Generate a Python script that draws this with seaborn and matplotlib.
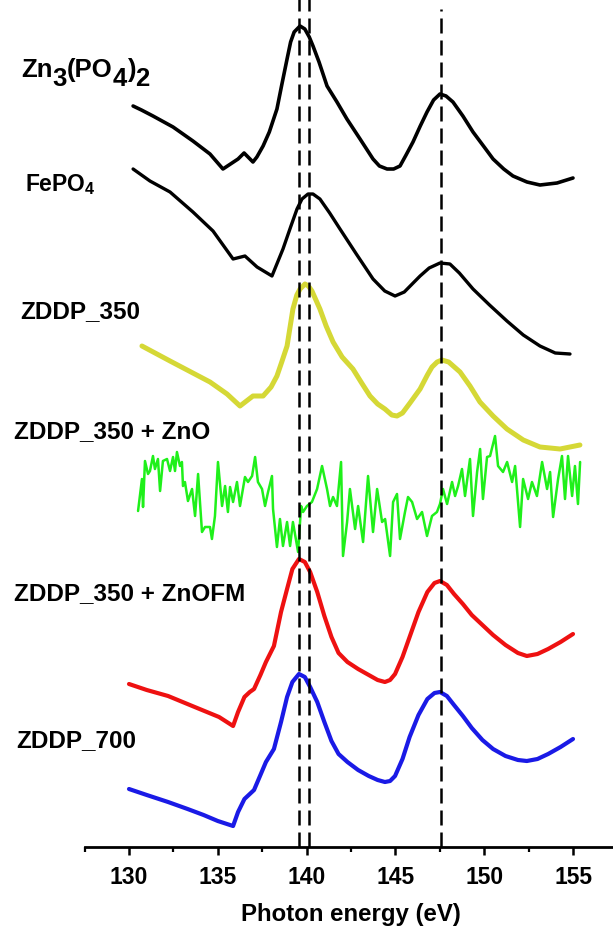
import numpy as np
import pandas as pd
import matplotlib
matplotlib.use("Agg")
import matplotlib.pyplot as plt
from matplotlib import font_manager
from matplotlib.ticker import MultipleLocator
import seaborn as sns

# ---------------- data (photon energy in eV, intensity in stacked a.u.) ----------------
zn3_x = [130.23, 130.70, 131.35, 132.48, 133.60, 134.56, 135.29, 136.14, 136.48, 136.98, 137.20,
         137.55, 137.90, 138.33, 138.60, 138.90, 139.10, 139.30, 139.63, 139.90, 140.15, 140.36,
         140.70, 141.15, 141.71, 142.27, 143.01, 143.74, 144.10, 144.53, 144.90, 145.26, 145.60,
         145.99, 146.40, 146.78, 147.15, 147.51, 147.85, 148.24, 148.80, 149.37, 150.00, 150.50,
         151.10, 151.62, 152.41, 153.14, 154.10, 155.00]
zn3_y = [741, 737, 731, 720, 706, 693, 678, 688, 694, 685, 690,
         701, 715, 738, 762, 788, 805, 815, 821, 818, 810, 801,
         785, 761, 745, 728, 708, 688, 681, 678, 678, 681, 692,
         705, 721, 735, 747, 753, 751, 745, 731, 715, 700, 688,
         678, 671, 665, 662, 664, 669]

fepo4_x = [130.23, 131.18, 132.31, 133.60, 134.73, 135.86, 136.53, 137.21, 138.05, 138.67, 139.10,
           139.46, 139.74, 140.08, 140.36, 140.75, 141.30, 141.88, 142.80, 143.74, 144.40, 144.98,
           145.50, 146.00, 146.39, 146.90, 147.51, 148.07, 148.60, 149.37, 150.30, 151.28, 152.20,
           153.14, 154.00, 154.83]
fepo4_y = [678, 666, 655, 635, 616, 588, 591, 580, 571, 598, 620,
           638, 648, 653, 653, 648, 634, 618, 593, 568, 556, 551,
           555, 564, 571, 579, 584, 583, 574, 558, 542, 526, 512,
           501, 494, 493]

zddp350_x = [130.73, 132.31, 134.56, 135.52, 136.25, 136.98, 137.55, 138.00, 138.33, 138.60, 138.90,
             139.23, 139.45, 139.63, 139.91, 140.10, 140.30, 140.75, 141.10, 141.49, 142.00, 142.61,
             143.10, 143.57, 144.00, 144.41, 144.80, 145.09, 145.40, 145.82, 146.39, 146.80, 147.06,
             147.35, 147.62, 148.00, 148.64, 149.20, 149.76, 150.50, 151.28, 152.20, 153.14, 154.27,
             155.39]
zddp350_y = [501, 486, 465, 453, 441, 451, 451, 460, 471, 485, 501,
             538, 552, 558, 563, 561, 556, 538, 521, 505, 490, 478,
             464, 451, 443, 438, 432, 431, 434, 444, 458, 472, 480,
             485, 487, 485, 475, 461, 445, 431, 418, 407, 400, 398,
             402]

zno_x = [130.51, 130.73, 130.79, 130.90, 131.07, 131.18, 131.35, 131.46, 131.63, 131.75,
         131.91, 132.14, 132.31, 132.48, 132.59, 132.70, 132.87, 132.98, 133.04, 133.15,
         133.32, 133.55, 133.72, 133.89, 134.11, 134.28, 134.56, 134.67, 134.84, 135.01,
         135.24, 135.41, 135.57, 135.69, 135.86, 136.08, 136.25, 136.53, 136.70, 136.93,
         137.10, 137.26, 137.49, 137.66, 137.83, 138.05, 138.11, 138.33, 138.50, 138.67,
         138.90, 139.07, 139.23, 139.52, 139.69, 139.80, 140.02, 140.30, 140.59, 140.87,
         141.15, 141.32, 141.49, 141.71, 141.94, 142.05, 142.28, 142.44,
         142.73, 142.90, 143.18, 143.46, 143.74, 143.97, 144.25, 144.42, 144.70, 144.87,
         145.09, 145.26, 145.54, 145.71, 145.94, 146.22, 146.50, 146.78, 147.06, 147.34,
         147.51, 147.68, 147.91, 148.19, 148.36, 148.53, 148.75, 148.92, 149.20, 149.37,
         149.60, 149.77, 149.93, 150.16, 150.33, 150.61, 150.78, 151.06, 151.29, 151.57,
         151.74, 152.02, 152.19, 152.47, 152.69, 152.97, 153.26, 153.54, 153.71, 153.88,
         154.16, 154.38, 154.55, 154.72, 154.95, 155.11, 155.28, 155.40]
zno_y = [336, 368, 340, 386, 373, 376, 391, 378, 388, 356,
         386, 388, 376, 390, 376, 395, 381, 385, 361, 365,
         346, 358, 331, 373, 315, 320, 320, 308, 331, 385,
         341, 361, 335, 360, 345, 365, 341, 370, 365, 371,
         390, 365, 358, 341, 355, 371, 338, 300, 328, 301,
         325, 301, 325, 295, 341, 335, 341, 345, 358, 381,
         358, 341, 350, 341, 385, 291, 325, 358,
         318, 341, 305, 371, 315, 358, 325, 328, 291, 345,
         353, 308, 335, 350, 345, 328, 335, 311, 331, 335,
         343, 358, 343, 365, 351, 361, 378, 351, 388, 331,
         375, 398, 348, 390, 391, 411, 381, 375, 385, 365,
         381, 320, 368, 348, 365, 351, 385, 358, 375, 330,
         368, 391, 348, 391, 351, 381, 343, 385]

znofm_x = [130.00, 131.00, 132.20, 133.70, 135.07, 135.86, 136.14, 136.50, 136.80, 137.04, 137.40,
           137.71, 138.16, 138.56, 138.90, 139.20, 139.57, 139.90, 140.20, 140.60, 141.00, 141.40,
           141.80, 142.30, 142.90, 143.50, 144.00, 144.41, 144.70, 144.98, 145.40, 145.80, 146.30,
           146.80, 147.20, 147.51, 147.90, 148.30, 148.80, 149.30, 149.90, 150.50, 151.20, 151.90,
           152.40, 153.00, 153.60, 154.30, 155.00]
znofm_y = [163, 157, 151, 140, 130, 121, 135, 150, 155, 158, 172,
           185, 201, 235, 258, 278, 288, 285, 275, 255, 231, 210,
           194, 185, 178, 172, 167, 165, 167, 173, 190, 210, 235,
           255, 264, 266, 262, 253, 243, 232, 222, 212, 202, 194,
           191, 193, 198, 205, 213]

zddp700_x = [130.00, 131.00, 132.20, 133.30, 134.20, 135.00, 135.86, 136.14, 136.50, 136.80, 137.04,
             137.40, 137.71, 138.16, 138.56, 138.90, 139.20, 139.57, 139.90, 140.20, 140.60, 141.00,
             141.40, 141.80, 142.30, 142.90, 143.50, 144.00, 144.41, 144.70, 144.98, 145.40, 145.80,
             146.30, 146.80, 147.20, 147.51, 147.90, 148.30, 148.80, 149.30, 149.90, 150.50, 151.20,
             151.90, 152.40, 153.00, 153.60, 154.30, 155.00]
zddp700_y = [58, 52, 45, 38, 32, 26, 21, 35, 48, 53, 57,
             72, 85, 98, 125, 150, 165, 173, 170, 160, 145, 125,
             106, 93, 85, 77, 71, 67, 65, 66, 71, 88, 110,
             132, 148, 154, 155, 151, 142, 131, 119, 107, 98, 91,
             87, 86, 88, 93, 100, 108]

peak_lines = [139.57, 140.12, 147.55]
peak_tops = [848, 848, 838]
xticks = [130, 135, 140, 145, 150, 155]

# ---------------- style ----------------
sns.set_style("white")
avail = {f.name for f in font_manager.fontManager.ttflist}
main_font = "Liberation Sans" if "Liberation Sans" in avail else "DejaVu Sans"
plt.rcParams["font.family"] = [main_font, "DejaVu Sans"]
plt.rcParams["mathtext.fontset"] = "custom"
plt.rcParams["mathtext.rm"] = main_font
plt.rcParams["mathtext.bf"] = main_font + ":bold"
plt.rcParams["text.color"] = "black"
plt.rcParams["axes.labelcolor"] = "black"
plt.rcParams["xtick.color"] = "black"

W, H = 613, 928
fig = plt.figure(figsize=(W / 100, H / 100), dpi=100)
ax = fig.add_axes([84.6 / W, 1 - 848 / H, 532.8 / W, 848 / H])

series = [
    (zn3_x, zn3_y, "#000000", 2.6),
    (fepo4_x, fepo4_y, "#000000", 2.4),
    (zddp350_x, zddp350_y, "#d5d836", 3.6),
    (zno_x, zno_y, "#1ff01a", 1.8),
    (znofm_x, znofm_y, "#ee1111", 3.0),
    (zddp700_x, zddp700_y, "#1a1ae6", 3.0),
]
for xs, ys, col, lw in series:
    df = pd.DataFrame({"E": xs, "I": ys})
    sns.lineplot(data=df, x="E", y="I", ax=ax, color=col, linewidth=lw,
                 sort=False, estimator=None)
for ln in ax.lines:
    ln.set_solid_joinstyle("round")
    ln.set_solid_capstyle("round")

ax.vlines(peak_lines, 0, peak_tops, colors="black", linewidth=1.8,
          linestyles=(0, (6, 2.8)))

ax.set_xlim(127.5, 157.5)
ax.set_ylim(0, 848)
ax.set_yticks([])
ax.set_ylabel("")
for s in ["left", "right", "top"]:
    ax.spines[s].set_visible(False)
ax.spines["bottom"].set_linewidth(2.0)
ax.spines["bottom"].set_color("black")
ax.set_xticks(xticks)
ax.xaxis.set_minor_locator(MultipleLocator(2.5))
ax.tick_params(axis="x", which="major", direction="out", length=6, width=1.8,
               color="black", labelcolor="black", pad=7, bottom=True)
ax.tick_params(axis="x", which="minor", direction="out", length=3.5, width=1.6,
               color="black", bottom=True)
for lab in ax.get_xticklabels():
    lab.set_fontweight("bold")
    lab.set_fontsize(16.5)
ax.set_xlabel("Photon energy (eV)", fontsize=17.3, fontweight="bold", labelpad=10,
              color="black")

# ---------------- labels ----------------
def fx(px):
    return px / W

def fy(py):
    return 1 - py / H

lab_kw = dict(fontsize=17.5, fontweight="bold", ha="left", va="baseline", color="black")

# Zn3(PO4)2 with full-size lowered digits
pieces = [("Zn", 0), ("3", -6.5), ("(PO", 6.5), ("4", -6.5), (")", 6.5), ("2", -6.5)]
prev = fig.text(fx(21), fy(77), pieces[0][0], fontsize=18.5, fontweight="bold",
                ha="left", va="baseline", color="black")
for txt, dy in pieces[1:]:
    prev = ax.annotate(txt, xy=(1, 0), xycoords=prev, xytext=(0, dy),
                       textcoords="offset points", fontsize=18.5, fontweight="bold",
                       ha="left", va="bottom", annotation_clip=False, color="black")

fig.text(fx(25), fy(191), r"FePO$_\mathbf{4}$", fontsize=16.5, fontweight="bold",
         ha="left", va="baseline", color="black")
fig.text(fx(20), fy(318), "ZDDP_350", **lab_kw)
fig.text(fx(14), fy(438), "ZDDP_350 + ZnO", **lab_kw)
fig.text(fx(14), fy(600), "ZDDP_350 + ZnOFM", **lab_kw)
fig.text(fx(16), fy(747), "ZDDP_700", **lab_kw)

fig.savefig("out.png", dpi=100)
